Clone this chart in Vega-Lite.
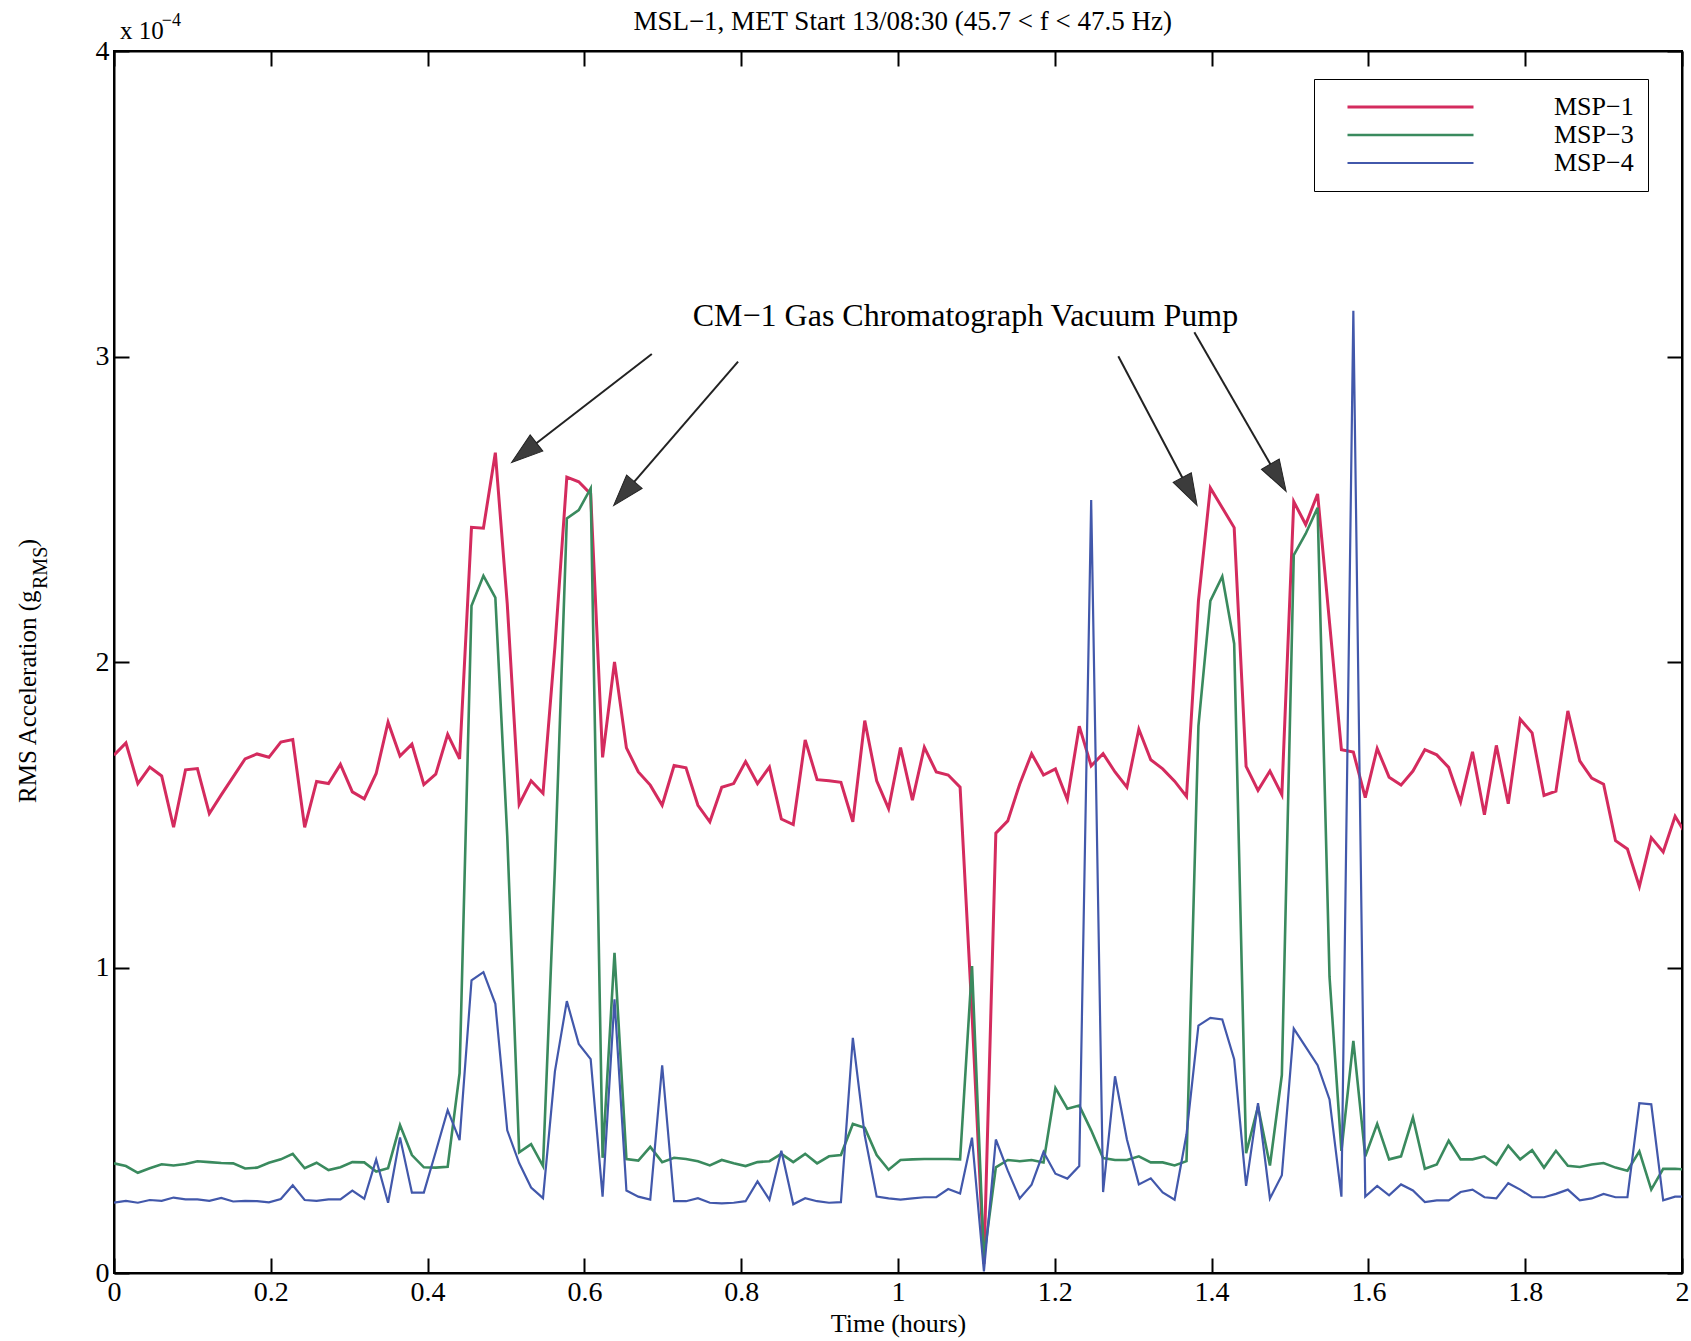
{
  "$schema": "https://vega.github.io/schema/vega-lite/v6.json",
  "width": 1568,
  "height": 1222,
  "autosize": "none",
  "padding": {"left": 114, "top": 51, "right": 9, "bottom": 68},
  "background": "white",
  "config": {
    "view": {"stroke": "black", "strokeWidth": 2},
    "font": "Liberation Serif",
    "axis": {
      "labelFont": "Liberation Serif", "titleFont": "Liberation Serif",
      "labelFontSize": 28, "titleFontSize": 26, "titleFontWeight": "normal",
      "labelColor": "black", "titleColor": "black",
      "domainColor": "black", "domainWidth": 2,
      "tickColor": "black", "tickWidth": 2, "tickSize": -15,
      "grid": false, "labelFlush": false, "labelOverlap": false, "labelBound": false
    }
  },
  "datasets": {
    "series": [
      {"t":0,"m1":1.695,"m3":0.359,"m4":0.230},
      {"t":0.0152,"m1":1.735,"m3":0.350,"m4":0.236},
      {"t":0.0304,"m1":1.602,"m3":0.328,"m4":0.230},
      {"t":0.0456,"m1":1.656,"m3":0.343,"m4":0.239},
      {"t":0.0608,"m1":1.627,"m3":0.356,"m4":0.236},
      {"t":0.076,"m1":1.459,"m3":0.352,"m4":0.247},
      {"t":0.0912,"m1":1.647,"m3":0.357,"m4":0.241},
      {"t":0.1064,"m1":1.651,"m3":0.366,"m4":0.241},
      {"t":0.1216,"m1":1.504,"m3":0.363,"m4":0.236},
      {"t":0.1368,"m1":1.565,"m3":0.360,"m4":0.246},
      {"t":0.152,"m1":1.624,"m3":0.359,"m4":0.234},
      {"t":0.1672,"m1":1.683,"m3":0.342,"m4":0.236},
      {"t":0.1824,"m1":1.699,"m3":0.345,"m4":0.235},
      {"t":0.1976,"m1":1.688,"m3":0.361,"m4":0.231},
      {"t":0.2128,"m1":1.738,"m3":0.372,"m4":0.242},
      {"t":0.228,"m1":1.746,"m3":0.390,"m4":0.287},
      {"t":0.2432,"m1":1.459,"m3":0.343,"m4":0.239},
      {"t":0.2584,"m1":1.609,"m3":0.361,"m4":0.236},
      {"t":0.2736,"m1":1.602,"m3":0.337,"m4":0.241},
      {"t":0.2888,"m1":1.665,"m3":0.346,"m4":0.241},
      {"t":0.304,"m1":1.575,"m3":0.363,"m4":0.270},
      {"t":0.3192,"m1":1.552,"m3":0.362,"m4":0.243},
      {"t":0.3344,"m1":1.635,"m3":0.332,"m4":0.372},
      {"t":0.3496,"m1":1.803,"m3":0.343,"m4":0.230},
      {"t":0.3648,"m1":1.692,"m3":0.484,"m4":0.444},
      {"t":0.38,"m1":1.731,"m3":0.386,"m4":0.263},
      {"t":0.3952,"m1":1.599,"m3":0.346,"m4":0.263},
      {"t":0.4104,"m1":1.633,"m3":0.345,"m4":0.397},
      {"t":0.4256,"m1":1.763,"m3":0.348,"m4":0.533},
      {"t":0.4408,"m1":1.683,"m3":0.654,"m4":0.435},
      {"t":0.456,"m1":2.441,"m3":2.184,"m4":0.958},
      {"t":0.4712,"m1":2.438,"m3":2.282,"m4":0.985},
      {"t":0.4864,"m1":2.685,"m3":2.211,"m4":0.881},
      {"t":0.5016,"m1":2.19,"m3":1.43,"m4":0.467},
      {"t":0.5168,"m1":1.534,"m3":0.395,"m4":0.36},
      {"t":0.532,"m1":1.611,"m3":0.422,"m4":0.28},
      {"t":0.5472,"m1":1.570,"m3":0.35,"m4":0.245},
      {"t":0.5624,"m1":2.05,"m3":1.327,"m4":0.66},
      {"t":0.5776,"m1":2.605,"m3":2.47,"m4":0.89},
      {"t":0.5928,"m1":2.59,"m3":2.497,"m4":0.75},
      {"t":0.608,"m1":2.55,"m3":2.568,"m4":0.70},
      {"t":0.6232,"m1":1.688,"m3":0.377,"m4":0.25},
      {"t":0.6384,"m1":2.0,"m3":1.048,"m4":0.896},
      {"t":0.6536,"m1":1.719,"m3":0.373,"m4":0.27},
      {"t":0.6688,"m1":1.64,"m3":0.368,"m4":0.25},
      {"t":0.684,"m1":1.597,"m3":0.413,"m4":0.24},
      {"t":0.6992,"m1":1.531,"m3":0.363,"m4":0.68},
      {"t":0.7144,"m1":1.661,"m3":0.377,"m4":0.235},
      {"t":0.7296,"m1":1.654,"m3":0.373,"m4":0.235},
      {"t":0.7448,"m1":1.531,"m3":0.366,"m4":0.245},
      {"t":0.76,"m1":1.477,"m3":0.352,"m4":0.23},
      {"t":0.7752,"m1":1.590,"m3":0.370,"m4":0.228},
      {"t":0.7904,"m1":1.602,"m3":0.359,"m4":0.23},
      {"t":0.8056,"m1":1.674,"m3":0.350,"m4":0.235},
      {"t":0.8208,"m1":1.602,"m3":0.363,"m4":0.30},
      {"t":0.836,"m1":1.656,"m3":0.366,"m4":0.24},
      {"t":0.8512,"m1":1.486,"m3":0.39,"m4":0.40},
      {"t":0.8664,"m1":1.468,"m3":0.363,"m4":0.225},
      {"t":0.8816,"m1":1.745,"m3":0.39,"m4":0.245},
      {"t":0.8968,"m1":1.615,"m3":0.359,"m4":0.235},
      {"t":0.912,"m1":1.611,"m3":0.382,"m4":0.23},
      {"t":0.9272,"m1":1.606,"m3":0.386,"m4":0.232},
      {"t":0.9424,"m1":1.477,"m3":0.488,"m4":0.77},
      {"t":0.9576,"m1":1.808,"m3":0.475,"m4":0.45},
      {"t":0.9728,"m1":1.611,"m3":0.386,"m4":0.25},
      {"t":0.988,"m1":1.52,"m3":0.338,"m4":0.244},
      {"t":1.0032,"m1":1.72,"m3":0.37,"m4":0.24},
      {"t":1.0184,"m1":1.548,"m3":0.372,"m4":0.244},
      {"t":1.0336,"m1":1.721,"m3":0.373,"m4":0.248},
      {"t":1.0488,"m1":1.64,"m3":0.373,"m4":0.248},
      {"t":1.064,"m1":1.63,"m3":0.373,"m4":0.275},
      {"t":1.0792,"m1":1.59,"m3":0.372,"m4":0.26},
      {"t":1.0944,"m1":0.85,"m3":1.005,"m4":0.443},
      {"t":1.1096,"m1":0.03,"m3":0.05,"m4":0.005},
      {"t":1.1248,"m1":1.44,"m3":0.346,"m4":0.437},
      {"t":1.14,"m1":1.48,"m3":0.37,"m4":0.335},
      {"t":1.1552,"m1":1.6,"m3":0.366,"m4":0.244},
      {"t":1.1704,"m1":1.70,"m3":0.37,"m4":0.289},
      {"t":1.1856,"m1":1.63,"m3":0.362,"m4":0.396},
      {"t":1.2008,"m1":1.65,"m3":0.605,"m4":0.325},
      {"t":1.216,"m1":1.55,"m3":0.538,"m4":0.309},
      {"t":1.2312,"m1":1.79,"m3":0.548,"m4":0.35},
      {"t":1.2464,"m1":1.66,"m3":0.467,"m4":2.53},
      {"t":1.2616,"m1":1.70,"m3":0.376,"m4":0.265},
      {"t":1.2768,"m1":1.64,"m3":0.37,"m4":0.644},
      {"t":1.292,"m1":1.59,"m3":0.37,"m4":0.437},
      {"t":1.3072,"m1":1.78,"m3":0.382,"m4":0.29},
      {"t":1.3224,"m1":1.68,"m3":0.362,"m4":0.31},
      {"t":1.3376,"m1":1.65,"m3":0.362,"m4":0.264},
      {"t":1.3528,"m1":1.61,"m3":0.352,"m4":0.24},
      {"t":1.368,"m1":1.56,"m3":0.366,"m4":0.454},
      {"t":1.3832,"m1":2.2,"m3":1.79,"m4":0.81},
      {"t":1.3984,"m1":2.57,"m3":2.20,"m4":0.835},
      {"t":1.4136,"m1":2.505,"m3":2.28,"m4":0.83},
      {"t":1.4288,"m1":2.44,"m3":2.06,"m4":0.70},
      {"t":1.444,"m1":1.658,"m3":0.392,"m4":0.285},
      {"t":1.4592,"m1":1.58,"m3":0.545,"m4":0.556},
      {"t":1.4744,"m1":1.643,"m3":0.352,"m4":0.244},
      {"t":1.4896,"m1":1.566,"m3":0.648,"m4":0.32},
      {"t":1.5048,"m1":2.525,"m3":2.35,"m4":0.80},
      {"t":1.52,"m1":2.45,"m3":2.42,"m4":0.74},
      {"t":1.5352,"m1":2.55,"m3":2.505,"m4":0.68},
      {"t":1.5504,"m1":2.13,"m3":0.97,"m4":0.568},
      {"t":1.5656,"m1":1.713,"m3":0.40,"m4":0.25},
      {"t":1.5808,"m1":1.705,"m3":0.76,"m4":3.15},
      {"t":1.596,"m1":1.556,"m3":0.382,"m4":0.25},
      {"t":1.6112,"m1":1.717,"m3":0.488,"m4":0.285},
      {"t":1.6264,"m1":1.623,"m3":0.372,"m4":0.254},
      {"t":1.6416,"m1":1.597,"m3":0.382,"m4":0.29},
      {"t":1.6568,"m1":1.643,"m3":0.509,"m4":0.27},
      {"t":1.672,"m1":1.713,"m3":0.341,"m4":0.232},
      {"t":1.6872,"m1":1.696,"m3":0.355,"m4":0.238},
      {"t":1.7024,"m1":1.655,"m3":0.433,"m4":0.238},
      {"t":1.7176,"m1":1.542,"m3":0.372,"m4":0.265},
      {"t":1.7328,"m1":1.706,"m3":0.372,"m4":0.273},
      {"t":1.748,"m1":1.50,"m3":0.382,"m4":0.248},
      {"t":1.7632,"m1":1.727,"m3":0.355,"m4":0.244},
      {"t":1.7784,"m1":1.536,"m3":0.417,"m4":0.294},
      {"t":1.7936,"m1":1.813,"m3":0.372,"m4":0.273},
      {"t":1.8088,"m1":1.768,"m3":0.402,"m4":0.248},
      {"t":1.824,"m1":1.563,"m3":0.345,"m4":0.248},
      {"t":1.8392,"m1":1.577,"m3":0.40,"m4":0.259},
      {"t":1.8544,"m1":1.84,"m3":0.351,"m4":0.273},
      {"t":1.8696,"m1":1.676,"m3":0.347,"m4":0.238},
      {"t":1.8848,"m1":1.62,"m3":0.355,"m4":0.244},
      {"t":1.9,"m1":1.60,"m3":0.36,"m4":0.259},
      {"t":1.9152,"m1":1.415,"m3":0.345,"m4":0.248},
      {"t":1.9304,"m1":1.388,"m3":0.335,"m4":0.248},
      {"t":1.9456,"m1":1.265,"m3":0.398,"m4":0.556},
      {"t":1.9608,"m1":1.425,"m3":0.273,"m4":0.552},
      {"t":1.976,"m1":1.378,"m3":0.341,"m4":0.238},
      {"t":1.9912,"m1":1.495,"m3":0.341,"m4":0.25},
      {"t":2.0064,"m1":1.43,"m3":0.339,"m4":0.25}
    ]
  },
  "layer": [
    {
      "data": {"name": "series"},
      "transform": [{"fold": ["m1", "m3", "m4"], "as": ["series", "value"]}],
      "mark": {"type": "line", "clip": true, "strokeJoin": "miter"},
      "encoding": {
        "x": {"field": "t", "type": "quantitative", "scale": {"domain": [0, 2], "nice": false},
              "axis": {"orient": "bottom", "values": [0, 0.2, 0.4, 0.6, 0.8, 1, 1.2, 1.4, 1.6, 1.8, 2], "format": "~g",
                       "title": "Time (hours)", "labelPadding": 20, "titlePadding": 4}},
        "y": {"field": "value", "type": "quantitative", "scale": {"domain": [0, 4], "nice": false, "zero": false},
              "axis": {"orient": "left", "values": [0, 1, 2, 3, 4], "format": "d", "title": null, "labelPadding": 20}},
        "color": {"field": "series", "type": "nominal",
                  "scale": {"domain": ["m1", "m3", "m4"], "range": ["#d42b5e", "#3a8a5e", "#4258ab"]},
                  "legend": {"title": null, "orient": "none", "legendX": 1200, "legendY": 28,
                             "symbolType": "stroke", "symbolSize": 15876, "symbolStrokeWidth": 2,
                             "clipHeight": 28, "rowPadding": 0, "padding": 14, "symbolOffset": 18,
                             "labelOffset": 79, "labelFont": "Liberation Serif", "labelFontSize": 26, "labelColor": "black",
                             "strokeColor": "black", "fillColor": "white",
                             "labelExpr": "datum.label == 'm1' ? 'MSP−1' : datum.label == 'm3' ? 'MSP−3' : 'MSP−4'"}},
        "strokeWidth": {"field": "series", "type": "nominal",
                        "scale": {"domain": ["m1", "m3", "m4"], "range": [3, 2.2, 2.4]}, "legend": null}
      }
    },
    {
      "data": {"name": "series"},
      "mark": {"type": "point", "opacity": 0},
      "encoding": {
        "x": {"field": "t", "type": "quantitative", "scale": {"domain": [0, 2], "nice": false},
              "axis": {"orient": "top", "values": [0, 0.2, 0.4, 0.6, 0.8, 1, 1.2, 1.4, 1.6, 1.8, 2], "labels": false, "title": null}},
        "y": {"field": "m1", "type": "quantitative", "scale": {"domain": [0, 4], "nice": false},
              "axis": {"orient": "right", "values": [0, 1, 2, 3, 4], "labels": false, "title": null}}
      }
    },
    {
      "data": {"values": [
        {"xa": 0.686, "ya": 3.008, "xb": 0.523, "yb": 2.685},
        {"xa": 0.796, "ya": 2.983, "xb": 0.6505, "yb": 2.551},
        {"xa": 1.281, "ya": 3.001, "xb": 1.372, "yb": 2.558},
        {"xa": 1.378, "ya": 3.079, "xb": 1.485, "yb": 2.603}
      ]},
      "mark": {"type": "rule", "color": "#222222", "strokeWidth": 2},
      "encoding": {
        "x": {"field": "xa", "type": "quantitative", "axis": null},
        "y": {"field": "ya", "type": "quantitative", "axis": null},
        "x2": {"field": "xb"},
        "y2": {"field": "yb"}
      }
    },
    {
      "data": {"values": [{"px": 0.523, "py": 2.685}]},
      "mark": {"type": "point", "shape": "M0,-1L0.65,1L-0.65,1Z", "size": 1000, "angle": 232, "filled": true, "color": "#3c3c3c", "opacity": 1, "stroke": "#222222", "strokeWidth": 1},
      "encoding": {"x": {"field": "px", "type": "quantitative", "axis": null}, "y": {"field": "py", "type": "quantitative", "axis": null}}
    },
    {
      "data": {"values": [{"px": 0.6505, "py": 2.551}]},
      "mark": {"type": "point", "shape": "M0,-1L0.65,1L-0.65,1Z", "size": 1000, "angle": 221, "filled": true, "color": "#3c3c3c", "opacity": 1, "stroke": "#222222", "strokeWidth": 1},
      "encoding": {"x": {"field": "px", "type": "quantitative", "axis": null}, "y": {"field": "py", "type": "quantitative", "axis": null}}
    },
    {
      "data": {"values": [{"px": 1.372, "py": 2.558}]},
      "mark": {"type": "point", "shape": "M0,-1L0.65,1L-0.65,1Z", "size": 1000, "angle": 152, "filled": true, "color": "#3c3c3c", "opacity": 1, "stroke": "#222222", "strokeWidth": 1},
      "encoding": {"x": {"field": "px", "type": "quantitative", "axis": null}, "y": {"field": "py", "type": "quantitative", "axis": null}}
    },
    {
      "data": {"values": [{"px": 1.485, "py": 2.603}]},
      "mark": {"type": "point", "shape": "M0,-1L0.65,1L-0.65,1Z", "size": 1000, "angle": 150, "filled": true, "color": "#3c3c3c", "opacity": 1, "stroke": "#222222", "strokeWidth": 1},
      "encoding": {"x": {"field": "px", "type": "quantitative", "axis": null}, "y": {"field": "py", "type": "quantitative", "axis": null}}
    },
    {
      "data": {"values": [{"px": 1.086, "py": 3.10, "label": "CM−1 Gas Chromatograph Vacuum Pump"}]},
      "mark": {"type": "text", "font": "Liberation Serif", "fontSize": 32, "align": "center", "baseline": "alphabetic", "color": "black"},
      "encoding": {"x": {"field": "px", "type": "quantitative", "axis": null}, "y": {"field": "py", "type": "quantitative", "axis": null}, "text": {"field": "label"}}
    },
    {
      "data": {"values": [{"px": 1.006, "py": 4.069, "label": "MSL−1, MET Start 13/08:30 (45.7 < f < 47.5 Hz)"}]},
      "mark": {"type": "text", "font": "Liberation Serif", "fontSize": 27, "align": "center", "baseline": "alphabetic", "color": "black"},
      "encoding": {"x": {"field": "px", "type": "quantitative", "axis": null}, "y": {"field": "py", "type": "quantitative", "axis": null}, "text": {"field": "label"}}
    },
    {
      "data": {"values": [{"px": 0.0077, "py": 4.039, "label": "x 10"}]},
      "mark": {"type": "text", "font": "Liberation Serif", "fontSize": 25, "align": "left", "baseline": "alphabetic", "color": "black"},
      "encoding": {"x": {"field": "px", "type": "quantitative", "axis": null}, "y": {"field": "py", "type": "quantitative", "axis": null}, "text": {"field": "label"}}
    },
    {
      "data": {"values": [{"px": 0.0610, "py": 4.082, "label": "−4"}]},
      "mark": {"type": "text", "font": "Liberation Serif", "fontSize": 18, "align": "left", "baseline": "alphabetic", "color": "black"},
      "encoding": {"x": {"field": "px", "type": "quantitative", "axis": null}, "y": {"field": "py", "type": "quantitative", "axis": null}, "text": {"field": "label"}}
    },
    {
      "data": {"values": [
        {"px": -0.1000, "py": 1.5385, "label": "RMS Acceleration (g"},
        {"px": -0.1000, "py": 2.376, "label": ")"}
      ]},
      "mark": {"type": "text", "font": "Liberation Serif", "fontSize": 25, "align": "left", "baseline": "alphabetic", "angle": 270, "color": "black"},
      "encoding": {"x": {"field": "px", "type": "quantitative", "axis": null}, "y": {"field": "py", "type": "quantitative", "axis": null}, "text": {"field": "label"}}
    },
    {
      "data": {"values": [{"px": -0.0860, "py": 2.239, "label": "RMS"}]},
      "mark": {"type": "text", "font": "Liberation Serif", "fontSize": 20, "align": "left", "baseline": "alphabetic", "angle": 270, "color": "black"},
      "encoding": {"x": {"field": "px", "type": "quantitative", "axis": null}, "y": {"field": "py", "type": "quantitative", "axis": null}, "text": {"field": "label"}}
    }
  ],
  "resolve": {"axis": {"x": "independent", "y": "independent"}}
}
